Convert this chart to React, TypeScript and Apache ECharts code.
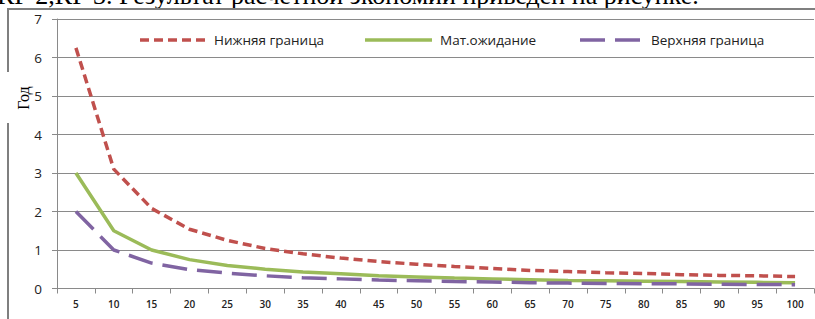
import React, { useEffect, useRef } from "react";
import * as echarts from "echarts";

const categories = ["5","10","15","20","25","30","35","40","45","50","55","60","65","70","75","80","85","90","95","100"];
const lowerBound = [6.25,3.1,2.08,1.54,1.25,1.04,0.9,0.79,0.7,0.63,0.57,0.52,0.47,0.44,0.41,0.39,0.36,0.34,0.33,0.31];
const expectation = [3.0,1.5,1.0,0.75,0.6,0.5,0.43,0.38,0.33,0.3,0.27,0.25,0.23,0.21,0.2,0.19,0.18,0.17,0.16,0.15];
const upperBound = [2.0,1.0,0.66,0.49,0.4,0.33,0.28,0.25,0.22,0.2,0.18,0.17,0.15,0.14,0.13,0.125,0.12,0.11,0.105,0.1];
const seriesNames = ["Нижняя граница", "Мат.ожидание", "Верхняя граница"];
const seriesColors = ["#C0504D", "#9BBB59", "#8064A2"];
const yTicks = [0, 1, 2, 3, 4, 5, 6, 7];
const captionText = "КР 2,КР 3. Результат расчетной экономии приведен на рисунке.";
const yAxisTitle = "Год";

export default function App() {
  const ref = useRef<HTMLDivElement>(null);
  useEffect(() => {
    document.body.style.margin = "0";
    const chart = echarts.init(ref.current!, null, { renderer: "svg" });
    const labelFont = "'Open Sans', 'DejaVu Sans', sans-serif";
    const dashes: any[] = [[9, 5], "solid", [25, 10]];
    const widths = [3.5, 3.5, 3.5];
    const legendLineX = [140, 365, 580];
    const legendTextX = [214, 440, 651];
    const legendY = 40;
    const legendGraphics: any[] = [];
    seriesNames.forEach((name, i) => {
      legendGraphics.push({
        type: "line",
        shape: { x1: legendLineX[i], y1: legendY, x2: legendLineX[i] + 67, y2: legendY },
        style: { stroke: seriesColors[i], lineWidth: widths[i], lineDash: dashes[i] === "solid" ? null : dashes[i] },
        z: 10,
      });
      legendGraphics.push({
        type: "text",
        x: legendTextX[i],
        y: legendY,
        style: { text: name, font: `13.5px ${labelFont}`, fill: "#222", verticalAlign: "middle" },
        z: 10,
      });
    });
    chart.setOption({
      animation: false,
      backgroundColor: "#ffffff",
      grid: { left: 57, right: 1, top: 19, bottom: 30.5, containLabel: false },
      legend: { show: false, data: seriesNames },
      xAxis: {
        type: "category",
        data: categories,
        boundaryGap: true,
        axisLine: { lineStyle: { color: "#8a8a8a", width: 1 } },
        axisTick: { show: true, length: 5, lineStyle: { color: "#8a8a8a" } },
        axisLabel: { fontFamily: labelFont, fontSize: 10, color: "#222", margin: 10, fontWeight: 600 },
      },
      yAxis: {
        type: "value",
        min: yTicks[0],
        max: yTicks[yTicks.length - 1],
        interval: 1,
        axisLine: { show: true, lineStyle: { color: "#8a8a8a", width: 1 } },
        axisTick: { show: true, length: 5, lineStyle: { color: "#8a8a8a" } },
        axisLabel: { fontFamily: labelFont, fontSize: 13.5, color: "#222", margin: 15 },
        splitLine: { lineStyle: { color: "#8a8a8a", width: 1 } },
      },
      series: seriesNames.map((name, i) => ({
        name,
        type: "line",
        data: [lowerBound, expectation, upperBound][i],
        symbol: "none",
        itemStyle: { color: seriesColors[i] },
        lineStyle: { color: seriesColors[i], width: widths[i], type: dashes[i] },
      })),
      graphic: [
        ...legendGraphics,
        {
          type: "text",
          x: -3,
          y: 8,
          style: {
            text: captionText,
            font: "26px 'Liberation Serif', 'Times New Roman', serif",
            fill: "#000",
            verticalAlign: "bottom",
          },
          z: 10,
        },
        { type: "line", shape: { x1: 8, y1: 9, x2: 815, y2: 9 }, style: { stroke: "#7f7f7f", lineWidth: 2 }, z: 10 },
        { type: "line", shape: { x1: 8, y1: 8, x2: 8, y2: 72 }, style: { stroke: "#7f7f7f", lineWidth: 2 }, z: 10 },
        { type: "line", shape: { x1: 8, y1: 123, x2: 8, y2: 319 }, style: { stroke: "#7f7f7f", lineWidth: 2 }, z: 10 },
        {
          type: "text",
          x: 23,
          y: 98,
          rotation: Math.PI / 2,
          style: {
            text: yAxisTitle,
            font: "16px 'Liberation Serif', 'Times New Roman', serif",
            fill: "#000",
            align: "center",
            verticalAlign: "middle",
          },
          z: 10,
        },
      ],
    });
    return () => chart.dispose();
  }, []);
  return <div ref={ref} style={{ position: "absolute", left: 0, top: 0, width: 815, height: 319 }} />;
}
